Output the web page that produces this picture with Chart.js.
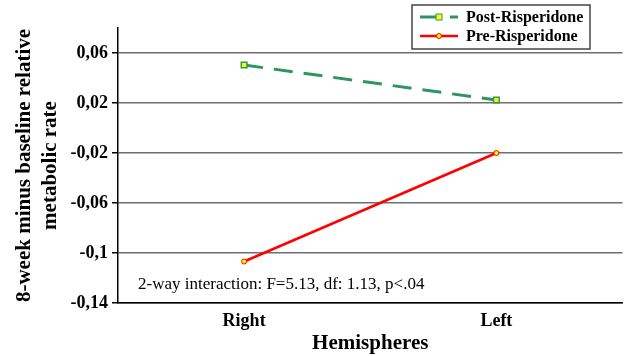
<!DOCTYPE html>
<html>
<head>
    <title>Hemispheres metabolic rate</title>
    <script src="https://cdn.jsdelivr.net/npm/chart.js"></script>
    <style>
        body { margin: 0; background: #fff; }
        #wrap { width: 628px; height: 356px; }
    </style>
</head>
<body>
    <div id="wrap"><canvas id="myChart" width="628" height="356"></canvas></div>

    <script>
        var hemispheres = ['Right', 'Left'];
        var postRisperidone = [0.0504, 0.0224];
        var preRisperidone = [-0.1068, -0.02];
        var tickValues = [-0.14, -0.1, -0.06, -0.02, 0.02, 0.06];
        var tickLabels = ['-0,14', '-0,1', '-0,06', '-0,02', '0,02', '0,06'];
        var noteText = '2-way interaction: F=5.13, df: 1.13, p<.04';

        var serif = "'Liberation Serif', 'DejaVu Serif', serif";
        var green = '#2e9460';
        var red = '#ff0000';

        // boxed legend drawn over the top right of the plot
        var boxLegend = {
            id: 'boxLegend',
            afterDraw(chart) {
                const c = chart.ctx;
                const x = 412, y = 5, w = 178, h = 44;
                c.save();
                c.fillStyle = '#fff';
                c.fillRect(x, y, w, h);
                c.strokeStyle = '#444';
                c.lineWidth = 1.5;
                c.strokeRect(x, y, w, h);
                c.font = 'bold 16px ' + serif;
                c.textBaseline = 'middle';
                chart.data.datasets.forEach((ds, i) => {
                    const ly = y + 12 + i * 19;
                    c.strokeStyle = ds.borderColor;
                    c.lineWidth = ds.borderWidth;
                    c.setLineDash(ds.borderDash || []);
                    c.beginPath();
                    c.moveTo(x + 8, ly);
                    c.lineTo(x + 46, ly);
                    c.stroke();
                    c.setLineDash([]);
                    c.fillStyle = ds.pointBackgroundColor;
                    c.strokeStyle = ds.pointBorderColor;
                    c.lineWidth = 1;
                    if (ds.pointStyle === 'rect') {
                        c.fillRect(x + 24, ly - 3, 6, 6);
                        c.strokeRect(x + 24, ly - 3, 6, 6);
                    } else {
                        c.beginPath();
                        c.arc(x + 27, ly, 2.5, 0, Math.PI * 2);
                        c.fill();
                        c.stroke();
                    }
                    c.fillStyle = '#000';
                    c.fillText(ds.label, x + 54, ly + 1);
                });
                c.restore();
            }
        };

        var noteLabel = {
            id: 'noteLabel',
            afterDatasetsDraw(chart) {
                const c = chart.ctx;
                const a = chart.chartArea;
                c.save();
                c.font = '17px ' + serif;
                c.fillStyle = '#000';
                c.textBaseline = 'middle';
                c.fillText(noteText, a.left + 20, a.bottom - 18);
                c.restore();
            }
        };

        var ctx = document.getElementById('myChart').getContext('2d');
        var myChart = new Chart(ctx, {
            type: 'line',
            data: {
                labels: hemispheres,
                datasets: [{
                    label: 'Post-Risperidone',
                    data: postRisperidone,
                    borderColor: green,
                    borderWidth: 3,
                    borderDash: [19, 11],
                    pointStyle: 'rect',
                    pointRadius: 4,
                    pointBackgroundColor: '#ffff00',
                    pointBorderColor: green,
                    pointBorderWidth: 1.5
                }, {
                    label: 'Pre-Risperidone',
                    data: preRisperidone,
                    borderColor: red,
                    borderWidth: 2.5,
                    pointStyle: 'circle',
                    pointRadius: 2.5,
                    pointBackgroundColor: '#ffff00',
                    pointBorderColor: red,
                    pointBorderWidth: 1
                }]
            },
            options: {
                responsive: false,
                animation: false,
                layout: { padding: { top: 28, right: 0, left: 0, bottom: 0 } },
                plugins: {
                    legend: { display: false },
                    tooltip: { enabled: false }
                },
                scales: {
                    x: {
                        offset: true,
                        grid: { display: false },
                        border: { display: true, color: '#000', width: 1.5 },
                        ticks: {
                            color: '#000',
                            padding: 0,
                            font: { family: serif, size: 18, weight: 'bold' }
                        },
                        title: {
                            display: true,
                            text: 'Hemispheres',
                            color: '#000',
                            padding: { top: 0, bottom: 0 },
                            font: { family: serif, size: 21, weight: 'bold' }
                        },
                        afterFit(scale) { scale.height = 53; }
                    },
                    y: {
                        min: -0.14,
                        max: 0.08,
                        afterBuildTicks(scale) {
                            scale.ticks = tickValues.map(v => ({ value: v }));
                        },
                        ticks: {
                            color: '#000',
                            padding: 4,
                            font: { family: serif, size: 18, weight: 'bold' },
                            callback(value, index) { return tickLabels[index]; }
                        },
                        grid: {
                            color: '#6e6e6e',
                            lineWidth: 1.5,
                            tickLength: 6,
                            tickColor: '#000'
                        },
                        border: { display: true, color: '#000', width: 1.5 },
                        title: {
                            display: true,
                            text: ['8-week minus baseline relative', 'metabolic rate'],
                            color: '#000',
                            padding: { top: 11, bottom: 0 },
                            font: { family: serif, size: 21, weight: 'bold', lineHeight: 1.25 }
                        },
                        afterFit(scale) { scale.width = 118; }
                    }
                }
            },
            plugins: [noteLabel, boxLegend]
        });
    </script>
</body>
</html>
